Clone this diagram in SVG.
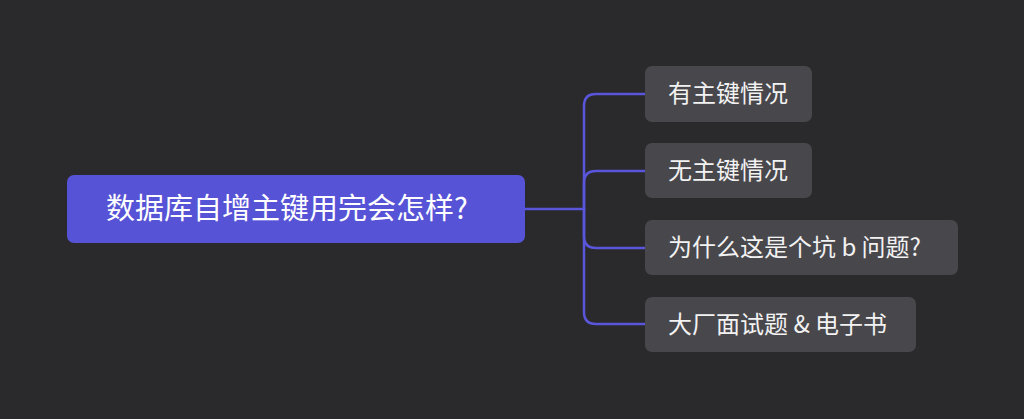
<svg xmlns="http://www.w3.org/2000/svg" width="1024" height="419" viewBox="0 0 1024 419">
<style>
.bg{fill:#2a292c}
.root{fill:#5653d6}
.child{fill:#48474c}
.t{fill:#ffffff;font-family:"Noto Sans CJK SC","Noto Sans",sans-serif}
.rt{font-size:29px}
.ct{font-size:24px;fill:#f2f2f2}
.link{fill:none;stroke:#5a56dc;stroke-width:2.5;stroke-linecap:round}
</style>
<rect class="bg" x="0" y="0" width="1024" height="419"/>
<g id="connectors">
<path class="link" d="M525,209 H584"/>
<path class="link" d="M584,209 V106 Q584,94 596,94 H645"/>
<path class="link" d="M584,209 V183 Q584,171 596,171 H645"/>
<path class="link" d="M584,209 V236 Q584,248 596,248 H645"/>
<path class="link" d="M584,209 V312 Q584,324 596,324 H645"/>
</g>
<g id="root">
<rect class="root" x="67" y="175" width="458" height="68" rx="7"/>
<text class="t rt" x="106" y="219">数据库自增主键用完会怎样?</text>
</g>
<g id="node1">
<rect class="child" x="645" y="66" width="167" height="56" rx="7"/>
<text class="t ct" x="668" y="102">有主键情况</text>
</g>
<g id="node2">
<rect class="child" x="645" y="143" width="167" height="55" rx="7"/>
<text class="t ct" x="668" y="179">无主键情况</text>
</g>
<g id="node3">
<rect class="child" x="645" y="220" width="313" height="55" rx="7"/>
<text class="t ct" x="668" y="256">为什么这是个坑 b 问题?</text>
</g>
<g id="node4">
<rect class="child" x="645" y="297" width="271" height="55" rx="7"/>
<text class="t ct" x="668" y="333">大厂面试题 &amp; 电子书</text>
</g>
</svg>
